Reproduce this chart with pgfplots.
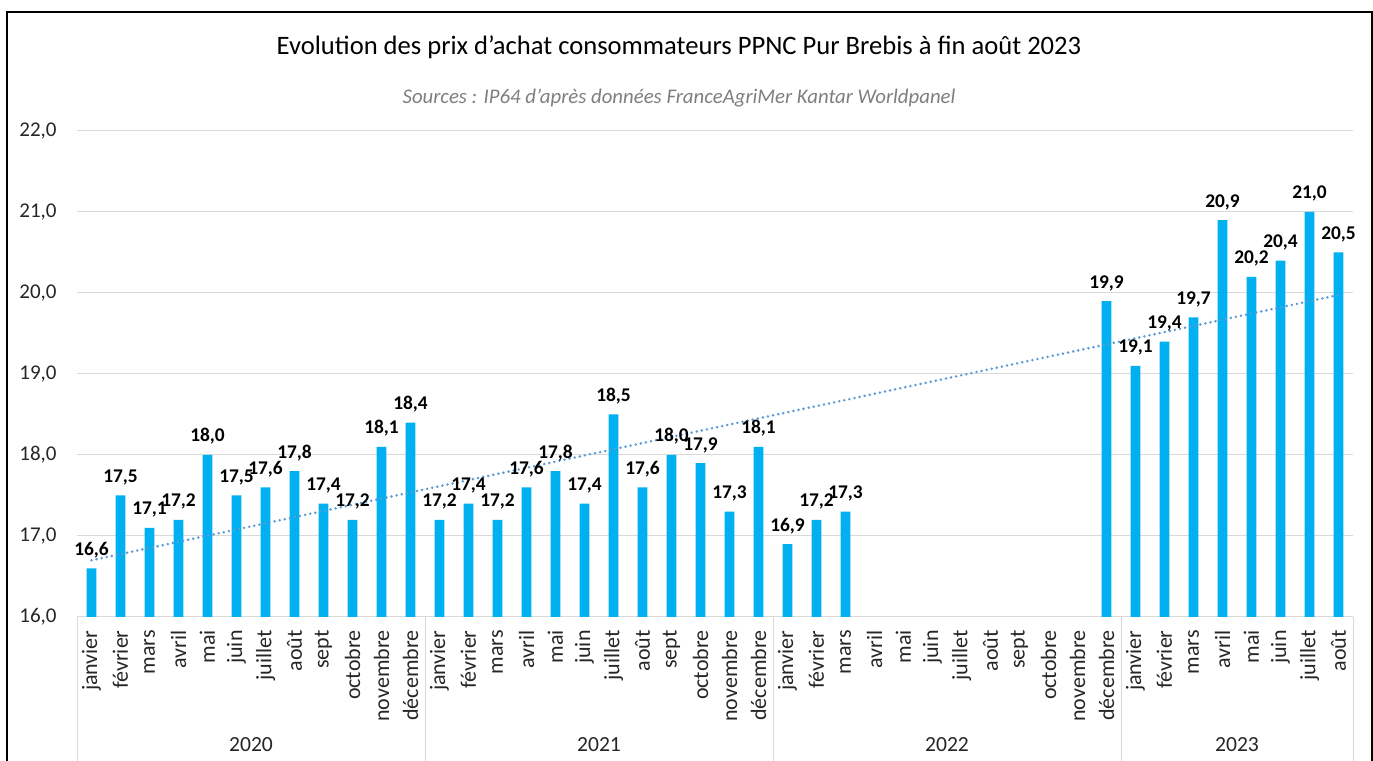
\documentclass[border=0pt]{standalone}
\usepackage{fontspec}
\setmainfont{Carlito}
\usepackage{pgfplots}
\pgfplotsset{compat=1.18}
\definecolor{barblue}{HTML}{00B0F0}
\definecolor{trend}{HTML}{5B9BD5}
\definecolor{gridc}{HTML}{D9D9D9}
\definecolor{txt}{HTML}{262626}
\definecolor{subc}{HTML}{7F7F7F}
\begin{document}
\begin{tikzpicture}
\path[use as bounding box] (0,0) rectangle (686.5pt,380.5pt);
\fill[white] (0,0) rectangle (686.5pt,380.5pt);
\draw[black,line width=1pt] (3.5pt,-2pt) -- (3.5pt,374.5pt) -- (685.75pt,374.5pt) -- (685.75pt,-2pt);
\node[font=\fontsize{13.3}{15}\selectfont, text=black] at (339.5pt,357pt) {Evolution des prix d'achat consommateurs PPNC Pur Brebis à fin août 2023};
\node[font=\fontsize{10.4}{12}\selectfont\itshape, text=subc] at (339.5pt,331.5pt) {Sources : IP64 d'après données FranceAgriMer Kantar Worldpanel};
\begin{axis}[at={(38.5pt,72pt)}, anchor=south west, scale only axis,
  width=638pt, height=243pt,
  xmin=-0.5, xmax=43.5, ymin=16, ymax=22,
  ytick={16,17,18,19,20,21,22},
  xtick={0,...,43},
  xticklabels={janvier,février,mars,avril,mai,juin,juillet,août,sept,octobre,novembre,décembre,
               janvier,février,mars,avril,mai,juin,juillet,août,sept,octobre,novembre,décembre,
               janvier,février,mars,avril,mai,juin,juillet,août,sept,octobre,novembre,décembre,
               janvier,février,mars,avril,mai,juin,juillet,août},
  axis line style={draw=none},
  major tick length=0pt,
  ymajorgrids, grid style={gridc, line width=0.5pt},
  yticklabel={\pgfmathprintnumber[fixed,fixed zerofill,precision=1,use comma,assume math mode=true]{\tick}},
  y tick label style={font=\fontsize{10.5}{12}\selectfont, text=txt, anchor=east, inner sep=0pt, xshift=-10pt},
  x tick label style={font=\fontsize{11}{13}\selectfont, text=txt, rotate=90, anchor=east, inner sep=0pt},
  xticklabel shift=6.5pt,
  clip=false]
\addplot[ybar, bar width=4.8pt, fill=barblue, draw=none] coordinates {
 (0,16.6) (1,17.5) (2,17.1) (3,17.2) (4,18.0) (5,17.5) (6,17.6) (7,17.8) (8,17.4) (9,17.2) (10,18.1) (11,18.4)
 (12,17.2) (13,17.4) (14,17.2) (15,17.6) (16,17.8) (17,17.4) (18,18.5) (19,17.6) (20,18.0) (21,17.9) (22,17.3) (23,18.1)
 (24,16.9) (25,17.2) (26,17.3) (35,19.9)
 (36,19.1) (37,19.4) (38,19.7) (39,20.9) (40,20.2) (41,20.4) (42,21.0) (43,20.5)};
\addplot[trend, line width=1.4pt, line cap=round, dash pattern=on 0pt off 2.6pt] coordinates {(0,16.70) (43,19.975)};
\addplot[only marks, mark=none,
  nodes near coords={\pgfmathprintnumber[fixed,fixed zerofill,precision=1,use comma,assume math mode=true]{\pgfplotspointmeta}},
  nodes near coords style={font=\bfseries\fontsize{9.7}{11}\selectfont, text=black, anchor=south, inner sep=0pt, yshift=5pt}] coordinates {
 (0,16.6) (1,17.5) (2,17.1) (3,17.2) (4,18.0) (5,17.5) (6,17.6) (7,17.8) (8,17.4) (9,17.2) (10,18.1) (11,18.4)
 (12,17.2) (13,17.4) (14,17.2) (15,17.6) (16,17.8) (17,17.4) (18,18.5) (19,17.6) (20,18.0) (21,17.9) (22,17.3) (23,18.1)
 (24,16.9) (25,17.2) (26,17.3) (35,19.9)
 (36,19.1) (37,19.4) (38,19.7) (39,20.9) (40,20.2) (41,20.4) (42,21.0) (43,20.5)};
\draw[gridc, line width=0.5pt] (axis cs:-0.5,16) -- ++(0pt,-80pt);
\draw[gridc, line width=0.5pt] (axis cs:11.5,16) -- ++(0pt,-80pt);
\draw[gridc, line width=0.5pt] (axis cs:23.5,16) -- ++(0pt,-80pt);
\draw[gridc, line width=0.5pt] (axis cs:35.5,16) -- ++(0pt,-80pt);
\draw[gridc, line width=0.5pt] (axis cs:43.5,16) -- ++(0pt,-80pt);
\node[font=\fontsize{10.8}{12}\selectfont, text=txt] at ([yshift=-64pt]axis cs:5.5,16) {2020};
\node[font=\fontsize{10.8}{12}\selectfont, text=txt] at ([yshift=-64pt]axis cs:17.5,16) {2021};
\node[font=\fontsize{10.8}{12}\selectfont, text=txt] at ([yshift=-64pt]axis cs:29.5,16) {2022};
\node[font=\fontsize{10.8}{12}\selectfont, text=txt] at ([yshift=-64pt]axis cs:39.5,16) {2023};
\end{axis}
\end{tikzpicture}
\end{document}
